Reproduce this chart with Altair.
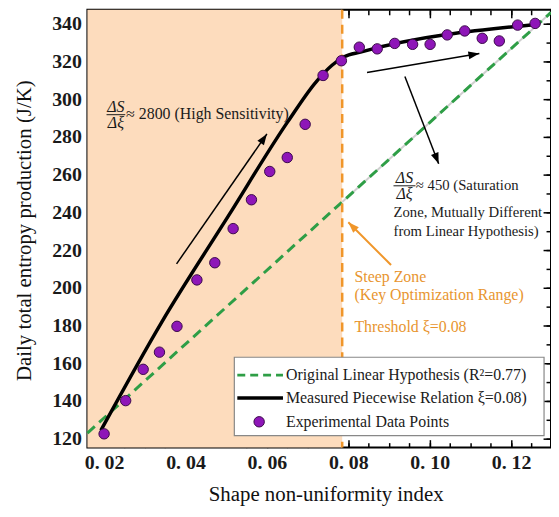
import math
import altair as alt
import pandas as pd

# ---------------- data ----------------
xi_points = [0.0200, 0.0253, 0.0296, 0.0336, 0.0379, 0.0428, 0.0472, 0.0517, 0.0562,
             0.0607, 0.0650, 0.0694, 0.0738, 0.0783, 0.0827, 0.0871, 0.0914, 0.0958,
             0.1001, 0.1043, 0.1086, 0.1129, 0.1171, 0.1216, 0.1259]
s_points = [122.6, 140.2, 156.8, 165.9, 179.6, 204.2, 213.3, 231.4, 246.7,
            261.7, 269.1, 286.7, 312.6, 320.4, 327.6, 326.7, 329.6, 329.1,
            329.1, 334.1, 336.2, 332.3, 330.9, 339.3, 340.2]

xi_piece = [0.0192, 0.0342, 0.0505, 0.0651, 0.0720, 0.0760, 0.0790, 0.0830, 0.1261]
s_piece = [124.4, 182.0, 238.0, 288.0, 309.0, 318.0, 322.5, 325.0, 339.6]

xi_linear = [0.0159, 0.1298]
s_linear = [123.0, 346.0]

threshold = 0.0785

x_major = [0.02, 0.04, 0.06, 0.08, 0.10, 0.12]
x_minor = [0.020, 0.025, 0.030, 0.035, 0.040, 0.045, 0.050, 0.055, 0.060, 0.065,
           0.070, 0.075, 0.080, 0.085, 0.090, 0.095, 0.100, 0.105, 0.110, 0.115,
           0.120, 0.125]
y_major = [120, 140, 160, 180, 200, 220, 240, 260, 280, 300, 320, 340]
y_minor = [120, 130, 140, 150, 160, 170, 180, 190, 200, 210, 220, 230, 240, 250,
           260, 270, 280, 290, 300, 310, 320, 330, 340]

legend_labels = ["Original Linear Hypothesis (R²=0.77)",
                 "Measured Piecewise Relation ξ=0.08)",
                 "Experimental Data Points"]

# annotation arrows (tail -> tip, data units)
arrow_x = [0.0378, 0.0846, 0.0939]
arrow_y = [212.7, 314.2, 312.1]
arrow_x2 = [0.0600, 0.1122, 0.1022]
arrow_y2 = [281.6, 324.2, 265.8]
orange_arrow = dict(x=[0.0905], y=[212.1], x2=[0.0800], y2=[234.8])

# ---------------- layout / style ----------------
X_DOMAIN = [0.0159, 0.1298]
Y_DOMAIN = [115.3, 347.4]
W, H = 467, 441
FONT = "Liberation Serif"
PEACH = "#FDDCBD"
GREEN = "#2E9E46"
ORANGE = "#F0962A"
ORANGE_TXT = "#E8952F"
PURPLE = "#8E16B8"
KX = W / (X_DOMAIN[1] - X_DOMAIN[0])
KY = H / (Y_DOMAIN[1] - Y_DOMAIN[0])
HEAD = "M0,0L-0.8,2.2L0.8,2.2Z"

xs = alt.Scale(domain=X_DOMAIN, nice=False, zero=False)
ys = alt.Scale(domain=Y_DOMAIN, nice=False, zero=False)


def X(f, axis=None):
    return alt.X(f, type="quantitative", scale=xs, axis=axis)


def Y(f, axis=None):
    return alt.Y(f, type="quantitative", scale=ys, axis=axis)


df_pts = pd.DataFrame({"x": xi_points, "y": s_points})
df_piece = pd.DataFrame({"x": xi_piece, "y": s_piece})
df_lin = pd.DataFrame({"x": xi_linear, "y": s_linear})
df_shade = pd.DataFrame({"x0": [X_DOMAIN[0]], "x1": [threshold]})
df_thr = pd.DataFrame({"x": [threshold]})
df_gray = pd.DataFrame({"x": [threshold, xi_linear[1]],
                        "y": [s_linear[0] + (threshold - xi_linear[0]) * (s_linear[1] - s_linear[0]) / (xi_linear[1] - xi_linear[0]), s_linear[1]]})


def heads(xa, ya, xb, yb):
    ang = [(math.degrees(math.atan2((b - a) * KX, (d - c) * KY)) + 360) % 360
           for a, b, c, d in zip(xa, xb, ya, yb)]
    return pd.DataFrame({"x": xb, "y": yb, "angle": ang})


df_arr = pd.DataFrame({"x": arrow_x, "y": arrow_y, "x2": arrow_x2, "y2": arrow_y2})
df_arr_head = heads(arrow_x, arrow_y, arrow_x2, arrow_y2)
df_oarr = pd.DataFrame(orange_arrow)
df_oarr_head = heads(orange_arrow["x"], orange_arrow["y"], orange_arrow["x2"], orange_arrow["y2"])

# ---------------- axes ----------------
ax_x_lab = alt.Axis(orient="bottom", values=x_major,
                    labelExpr="replace(format(datum.value, '.2f'), '0.', '0. ')",
                    ticks=False, domain=False, grid=False, labelFlush=False,
                    labelFont=FONT, labelFontSize=20, labelFontWeight="bold",
                    labelColor="#1a1a1a", labelPadding=5,
                    title="Shape non-uniformity index", titleFont=FONT, titleFontSize=21,
                    titleFontWeight="normal", titleColor="#111", titleX=240, titleY=47,
                    titleAlign="center", titleBaseline="middle")
ax_y_lab = alt.Axis(orient="left", values=y_major, format="d",
                    ticks=False, domain=False, grid=False, labelFlush=False,
                    labelFont=FONT, labelFontSize=20, labelFontWeight="bold",
                    labelColor="#1a1a1a", labelPadding=6,
                    title="Daily total entropy production (J/K)", titleFont=FONT,
                    titleFontSize=21, titleFontWeight="normal", titleColor="#111",
                    titleX=-63, titleY=222, titleAngle=270, titleAlign="center",
                    titleBaseline="middle")


def tick_axis(orient, values, size):
    return alt.Axis(orient=orient, values=values, labels=False, domain=False, grid=False,
                    ticks=True, tickSize=size, tickWidth=1.5, tickColor="black",
                    offset=-size, title=None)


def axis_layer(ax_x, ax_y):
    return alt.Chart(df_pts).mark_point(opacity=0).encode(x=X("x", ax_x), y=Y("y", ax_y))


axes_layers = [
    axis_layer(ax_x_lab, ax_y_lab),
    axis_layer(tick_axis("bottom", x_minor, 5), tick_axis("left", y_minor, 5)),
    axis_layer(tick_axis("top", x_minor, 5), tick_axis("right", y_minor, 5)),
    axis_layer(tick_axis("bottom", x_major, 8), tick_axis("left", y_major, 8)),
    axis_layer(tick_axis("top", x_major, 8), tick_axis("right", y_major, 8)),
]

# ---------------- marks ----------------
gray = alt.Chart(df_gray).mark_line(color="#cfcfcf", strokeWidth=2).encode(x=X("x"), y=Y("y"))
shade = alt.Chart(df_shade).mark_rect(color=PEACH).encode(
    x=X("x0"), x2="x1", y=alt.value(0), y2=alt.value(H))
green = alt.Chart(df_lin).mark_line(color=GREEN, strokeWidth=3, strokeDash=[10, 6]).encode(
    x=X("x"), y=Y("y"))
thr = alt.Chart(df_thr).mark_rule(color=ORANGE, strokeWidth=2.5, strokeDash=[9, 6]).encode(x=X("x"))
piece = alt.Chart(df_piece).mark_line(color="black", strokeWidth=3.5, interpolate="monotone").encode(
    x=X("x"), y=Y("y"))
pts = alt.Chart(df_pts).mark_point(filled=True, size=110, fill=PURPLE, stroke="#3A0A4A",
                                   strokeWidth=1, opacity=1).encode(x=X("x"), y=Y("y"))

arrows = alt.Chart(df_arr).mark_rule(color="black", strokeWidth=1.5).encode(
    x=X("x"), y=Y("y"), x2="x2", y2="y2")
arrow_heads = alt.Chart(df_arr_head).mark_point(shape=HEAD, filled=True, size=100, color="black",
                                                opacity=1).encode(
    x=X("x"), y=Y("y"), angle=alt.Angle("angle:Q", scale=None))
oarrow = alt.Chart(df_oarr).mark_rule(color=ORANGE, strokeWidth=2).encode(
    x=X("x"), y=Y("y"), x2="x2", y2="y2")
oarrow_head = alt.Chart(df_oarr_head).mark_point(shape=HEAD, filled=True, size=100, color=ORANGE,
                                                 opacity=1).encode(
    x=X("x"), y=Y("y"), angle=alt.Angle("angle:Q", scale=None))

# annotation texts
df_txt1 = pd.DataFrame({"x": [0.0254], "y": [292.1], "text": ["≈ 2800 (High Sensitivity)"]})
txt1 = alt.Chart(df_txt1).mark_text(align="left", baseline="middle", font=FONT, fontSize=16,
                                    color="#1a1a1a").encode(x=X("x"), y=Y("y"), text="text:N")
df_txt2 = pd.DataFrame({
    "x": [0.0966, 0.0911, 0.0911],
    "y": [254.2, 239.5, 229.5],
    "text": ["≈ 450 (Saturation", "Zone, Mutually Different", "from Linear Hypothesis)"]})
txt2 = alt.Chart(df_txt2).mark_text(align="left", baseline="middle", font=FONT, fontSize=14.8,
                                    color="#1a1a1a").encode(x=X("x"), y=Y("y"), text="text:N")
df_frac = pd.DataFrame({
    "x": [0.0229, 0.0229, 0.0938, 0.0938],
    "y": [296.0, 287.4, 258.4, 249.6],
    "text": ["ΔS", "Δξ", "ΔS", "Δξ"]})
frac = alt.Chart(df_frac).mark_text(align="center", baseline="middle", font=FONT, fontSize=16,
                                    fontStyle="italic", color="#1a1a1a").encode(
    x=X("x"), y=Y("y"), text="text:N")
df_bar = pd.DataFrame({"x": [0.0206, 0.0911], "x2": [0.0252, 0.0965], "y": [291.8, 254.1]})
bars = alt.Chart(df_bar).mark_rule(color="#1a1a1a", strokeWidth=1).encode(
    x=X("x"), x2="x2", y=Y("y"))

df_otxt = pd.DataFrame({"x": [0.0815, 0.0815, 0.0815], "y": [205.8, 196.3, 179.0],
                        "text": ["Steep Zone", "(Key Optimization Range)", "Threshold ξ=0.08"]})
otxt = alt.Chart(df_otxt).mark_text(align="left", baseline="middle", font=FONT, fontSize=16,
                                    color=ORANGE_TXT).encode(x=X("x"), y=Y("y"), text="text:N")

# manual legend
one = pd.DataFrame({"k": [0]})
leg_box = alt.Chart(one).mark_rect(fill="white", stroke="#888", strokeWidth=1.2).encode(
    x=alt.value(148), x2=alt.value(460), y=alt.value(350), y2=alt.value(429))
leg_g = alt.Chart(one).mark_rule(color=GREEN, strokeWidth=3, strokeDash=[8, 5]).encode(
    x=alt.value(151), x2=alt.value(197), y=alt.value(368))
leg_k = alt.Chart(one).mark_rule(color="black", strokeWidth=3.5).encode(
    x=alt.value(151), x2=alt.value(197), y=alt.value(391))
leg_p = alt.Chart(one).mark_point(filled=True, size=110, fill=PURPLE, stroke="#3A0A4A",
                                  strokeWidth=1, opacity=1).encode(x=alt.value(173), y=alt.value(415))
leg_t = [alt.Chart(one).mark_text(align="left", baseline="middle", font=FONT, fontSize=16,
                                  color="#1a1a1a").encode(
    x=alt.value(200), y=alt.value(yy), text=alt.value(t))
    for t, yy in zip(legend_labels, [368, 391, 415])]

chart = alt.layer(
    gray, shade, green, thr, piece, pts, arrows, arrow_heads, oarrow, oarrow_head,
    txt1, txt2, frac, bars, otxt, leg_box, leg_g, leg_k, leg_p, *leg_t, *axes_layers
).resolve_axis(x="independent", y="independent").properties(
    width=W, height=H,
    autosize=alt.AutoSizeParams(type="none"),
    padding={"left": 80, "top": 0, "right": 0, "bottom": 58},
    background="white",
).configure_view(stroke="black", strokeWidth=2)

chart.save("out.html", embed_options={"renderer": "svg", "actions": False})
